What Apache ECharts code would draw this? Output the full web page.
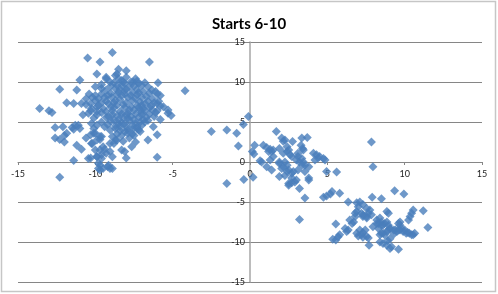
<!DOCTYPE html>
<html><head><meta charset="utf-8">
<script src="https://cdn.jsdelivr.net/npm/echarts@6/dist/echarts.min.js"></script>
<style>html,body{margin:0;padding:0;background:#fff}#c{width:498px;height:294px}</style>
</head><body><div id="c"></div>
<script>
const chartTitle = "Starts 6-10";
const axisTicks = [-15, -10, -5, 0, 5, 10, 15];

const leftGroup = [
[-8.9,13.7],[-10.5,13.0],[-9.7,12.5],[-6.5,12.5],[-8.0,11.4],[-8.5,11.6],[-9.9,11.0],[-9.3,10.6],[-11.0,10.25],[-12.3,9.1],[-11.2,9.0],[-5.95,9.9],[-4.2,8.9],
[-13.6,6.7],[-13.0,6.4],[-12.8,6.2],[-11.85,7.4],[-11.4,7.3],[-10.9,7.3],[-10.2,8.1],[-9.6,9.2],
[-12.6,4.3],[-12.1,4.4],[-11.5,4.3],[-11.3,4.6],[-11.1,4.6],[-11.0,4.2],[-11.4,4.1],[-11.85,3.6],[-12.0,3.3],[-12.6,3.0],[-12.3,2.8],[-12.0,2.5],[-11.2,2.1],[-10.9,1.6],[-11.4,0.2],[-10.3,0.5],[-10.6,3.0],[-10.2,2.3],[-10.1,4.2],[-10.0,3.6],[-9.7,3.2],[-9.7,1.5],[-9.6,0.9],[-9.9,0.7],[-9.7,-0.4],[-9.8,-0.8],[-9.7,-1.0],[-9.2,-0.6],[-8.9,-0.8],[-9.3,1.1],[-9.05,1.3],[-9.05,2.3],[-8.7,2.75],[-8.3,1.5],[-8.1,1.3],[-8.0,0.5],[-7.65,1.9],[-12.3,-1.9],[-6.6,2.75],[-6.0,3.4],[-6.0,0.6],[-7.2,4.0],[-5.3,6.1],[-5.1,5.8],[-5.8,5.3],
[-8.6,11.0],[-8.7,10.8],[-8.3,10.2],[-8.2,10.0],[-7.55,10.0],[-7.2,9.8],[-7.0,9.6],[-6.35,9.0],[-6.0,8.5],[-5.8,8.3],[-5.9,7.6],[-6.0,7.3],[-5.3,6.5],
[-6.25,4.4],[-7.1,3.8],[-7.3,4.2],[-7.0,4.6],[-7.1,5.0],[-6.8,5.0],[-10.25,2.3],[-10.3,3.4],[-10.1,3.6],[-9.6,3.2],[-9.7,2.8],[-9.9,2.75],[-10.45,0.45],[-9.9,0.65],[-9.6,0.45],[-9.8,-0.15],[-9.5,-0.8],[-9.05,-0.8],[-9.15,-0.4],[-9.4,1.6],[-8.8,2.3],[-8.6,2.75],[-10.8,5.9],[-10.45,6.1],[-9.9,6.3],[-10.1,5.5],[-10.25,4.8],[-9.9,4.6],[-9.6,5.0],[-9.4,4.4],[-9.05,4.0],[-8.7,4.2],[-8.5,4.8],[-8.8,5.25],[-9.15,5.7],[-10.0,1.5],[-9.5,1.9],[-8.9,0.65],
[-10.25,6.7],[-9.8,7.1],[-9.5,6.7],[-9.15,7.3],[-8.7,7.7],[-8.95,8.1],[-8.5,8.75],[-8.6,9.6],[-9.05,10.0],[-9.6,8.5],[-9.8,7.9],[-9.4,8.1],
[-9.3,10.4],[-8.0,10.6],[-7.4,10.4],[-8.8,9.9],[-7.8,9.4],[-8.3,9.6],[-7.3,9.1],[-6.6,9.4],[-10.0,9.4],[-9.3,9.0],[-8.1,8.9],[-7.6,8.7],[-6.9,8.8],[-10.4,8.5],[-9.0,8.6],[-8.3,8.3],[-7.9,8.1],[-7.3,8.4],[-6.7,8.2],[-6.3,7.9],[-10.6,7.9],[-10.0,7.7],[-9.3,7.6],[-8.4,7.8],[-8.0,7.4],[-7.6,7.7],[-7.1,7.5],[-6.6,7.6],[-6.4,7.0],[-10.6,7.2],[-9.9,6.9],[-9.0,6.9],[-8.6,7.1],[-8.1,6.8],[-7.7,6.9],[-7.3,7.1],[-6.9,6.7],[-6.3,6.5],[-5.6,6.9],[-10.3,6.4],[-9.6,6.2],[-8.9,6.4],[-8.4,6.3],[-7.9,6.1],[-7.5,6.5],[-7.0,6.2],[-6.5,6.0],[-6.0,6.4],[-9.9,5.9],[-9.3,5.6],[-8.6,5.8],[-8.2,5.5],[-7.7,5.7],[-7.2,5.6],[-6.7,5.6],[-6.2,5.7],[-9.0,5.1],[-8.3,4.9],[-7.8,5.2],[-7.4,4.8],[-6.6,5.2],[-8.0,4.4],[-7.6,4.1],[-8.4,3.9],[-7.9,3.6],[-8.3,3.3],[-7.8,3.0],[-8.2,2.6],[-7.5,3.3],[-8.6,3.5],[-8.9,3.2],[-7.4,2.5],[-8.7,9.2],[-7.7,10.0],[-8.5,10.4],[-6.8,9.9],[-9.6,9.7],
[-8.0,9.1],[-7.5,9.5],[-8.6,8.4],[-7.0,8.1],[-8.2,7.2],[-7.4,7.9],[-6.8,7.3],[-8.8,7.4],[-7.8,6.5],[-7.2,6.8],[-8.3,6.0],[-7.4,6.0],[-6.8,6.4],[-8.5,5.3],[-7.5,5.3],[-7.0,5.9],[-8.1,4.8],[-7.6,4.6],[-8.7,4.5],[-7.9,4.0],[-8.1,8.5],[-7.2,8.7],[-9.2,8.3],[-8.4,9.1],[-7.0,7.1],[-9.3,6.3],[-8.9,5.9],[-7.9,5.5],[-8.0,5.9],[-7.1,6.5],[-6.5,6.8],[-6.1,6.2],[-6.9,5.3],[-8.4,4.4],[-7.3,4.4],[-8.1,3.8],[-7.6,3.5],[-9.2,4.7],[-8.8,6.8],[-7.7,8.3],[-6.5,8.6],[-9.0,9.5],[-8.1,9.8],[-7.3,10.1],[-6.1,8.8],[-10.0,8.3],[-10.3,7.3],[-9.6,7.4],[-6.2,7.4],[-5.8,7.0]
];

const middleGroup = [
[-2.5,3.8],[-1.5,4.0],[-0.86,3.6],[-0.43,4.7],[-0.1,5.7],[-0.75,2.0],[-1.5,-2.7],[-0.4,-2.2],[0.2,-1.9],
[0.3,2.1],[0.15,1.3],[0.25,1.0],[0.65,0.15],[0.86,2.1],[1.08,1.8],[1.3,1.6],[1.5,1.5],[1.7,3.8],[2.05,3.0],[2.26,2.75],[2.15,2.6],[2.75,2.55],[1.9,1.7],[2.4,1.3],[2.6,0.9],[2.4,1.9],[2.5,1.5],[2.7,0.7],[2.15,1.1],[1.4,1.3],[1.5,0.7],[1.2,1.3],
[3.35,3.0],[3.7,3.05],[3.3,2.1],[3.45,1.5],[3.4,1.7],[3.1,1.1],[3.1,0.7],[3.35,0.45],[3.45,0.0],[3.55,-0.4],[3.2,0.0],[3.0,0.25],[3.8,-0.6],
[4.1,1.1],[4.3,0.9],[4.5,0.7],[4.75,0.45],[4.85,0.25],[4.2,0.25],[4.4,0.5],[4.95,-1.2],[5.6,-1.25],
[0.75,0.0],[1.08,-0.6],[1.4,-1.0],[1.3,0.25],[1.9,-0.2],[1.9,0.0],[2.05,-0.8],[2.15,-0.6],[2.4,-1.2],[2.26,-1.7],[1.9,-1.8],[2.7,-2.0],[2.5,-2.9],[3.0,-2.25],[2.8,-1.2],[3.1,-1.0],[3.35,-0.4],[3.55,-1.2],[3.8,-2.0],[2.26,0.0],[2.4,-0.4],[2.5,-1.0],[2.7,-1.4],[2.5,-2.7],[2.7,-2.6],[2.9,-2.5],[3.2,-3.3],[3.55,-4.5],[3.2,-7.2],[3.8,-2.25],
[7.85,2.5],[7.95,-0.6]
];

const lowerRightGroup = [
[4.75,-4.4],[4.95,-4.25],[5.2,-4.0],[5.3,-3.7],[5.8,-3.9],[6.35,-5.0],[6.9,-5.1],[7.1,-5.0],[7.3,-5.3],[7.0,-5.6],[6.9,-6.2],[6.8,-6.4],[7.2,-6.4],[7.3,-6.6],[7.55,-6.8],[7.55,-5.8],[7.75,-6.0],[7.65,-6.4],[7.85,-6.6],[7.3,-6.8],[7.55,-7.0],[7.9,-4.4],[8.5,-4.6],[9.35,-3.6],[9.95,-4.0],
[8.85,-6.2],[8.95,-6.4],[8.2,-7.25],[8.3,-7.7],[8.4,-7.0],[8.5,-7.5],[8.6,-7.9],[8.7,-7.7],[8.85,-7.5],[7.95,-8.1],[8.2,-7.7],[8.5,-7.9],[8.3,-8.3],[8.95,-7.9],[9.05,-8.3],
[6.45,-7.25],[6.7,-7.5],[6.6,-7.7],[6.8,-6.8],[5.55,-7.75],[6.15,-8.3],[6.35,-8.5],[6.25,-8.7],
[8.5,-8.9],[8.7,-9.1],[8.85,-8.7],[8.4,-9.1],[8.6,-8.9],[7.1,-8.5],[7.3,-8.8],[7.2,-9.1],[6.9,-8.9],[7.0,-9.25],[7.55,-9.3],[7.65,-9.5],[7.3,-9.4],[7.45,-8.5],
[9.6,-7.7],[9.7,-7.5],[9.7,-7.9],[9.4,-8.5],[9.7,-8.5],[9.9,-8.7],[10.1,-8.9],[10.2,-8.8],[10.55,-9.1],[9.8,-8.3],[10.0,-8.5],[10.3,-8.9],[10.45,-9.1],[10.65,-8.9],[8.95,-8.5],[9.05,-8.3],[9.3,-8.5],[9.5,-8.7],[9.6,-8.5],
[10.25,-7.25],[10.35,-6.8],[10.45,-6.4],[10.55,-6.0],[11.2,-6.1],[11.5,-8.2],
[5.55,-9.75],[5.35,-9.65],[5.7,-9.35],[5.8,-9.1],[7.7,-10.4],[8.4,-10.0],[8.6,-10.2],[8.85,-10.4],[9.05,-10.8],[9.15,-10.6],[9.6,-10.9],[8.9,-9.8],[9.05,-9.6],[9.3,-9.0]
];

const markerColor = '#4a7ebb';
const gridGray = '#868686';
const chart = echarts.init(document.getElementById('c'), null, {renderer: 'canvas'});
function scatterSeries(data){
  return {type:'scatter', data:data, symbol:'diamond', symbolSize:9,
    itemStyle:{color:markerColor}, silent:true, animation:false};
}
const axisMin = axisTicks[0], axisMax = axisTicks[axisTicks.length-1];
const gridLeft = 18, gridRight = 16, gridTop = 42, gridBottom = 12;
const plotW = 498 - gridLeft - gridRight, plotH = 294 - gridTop - gridBottom;
chart.setOption({
  animation:false,
  title:{text:chartTitle, left:'center', top:12,
    textStyle:{fontFamily:'Lato', fontWeight:'bold', fontSize:15, color:'#000'}},
  grid:{left:gridLeft, right:gridRight, top:gridTop, bottom:gridBottom, outerBoundsMode:'none', containLabel:false},
  xAxis:{type:'value', min:axisMin, max:axisMax, interval:5, position:'bottom',
    offset:-plotH*(0-axisMin)/(axisMax-axisMin),
    axisLine:{onZero:false, lineStyle:{color:gridGray, width:1}},
    axisTick:{show:true, length:3, lineStyle:{color:gridGray}},
    axisLabel:{fontFamily:'Lato', fontSize:9, color:'#222', margin:8},
    splitLine:{show:false}},
  yAxis:{type:'value', min:axisMin, max:axisMax, interval:5, position:'left',
    offset:-plotW*(0-axisMin)/(axisMax-axisMin),
    axisLine:{show:true, onZero:false, lineStyle:{color:'#a6a6a6', width:1.5}},
    axisTick:{show:true, length:3, lineStyle:{color:gridGray}},
    axisLabel:{fontFamily:'Lato', fontSize:9, color:'#222', margin:5},
    splitLine:{show:true, lineStyle:{color:gridGray, width:1}}},
  graphic:[{type:'rect', shape:{x:1.5, y:1.5, width:494, height:290},
    style:{fill:null, stroke:'#c6c6c6', lineWidth:1.5}, silent:true}],
  series:[scatterSeries(leftGroup), scatterSeries(middleGroup), scatterSeries(lowerRightGroup)]
});
</script></body></html>
